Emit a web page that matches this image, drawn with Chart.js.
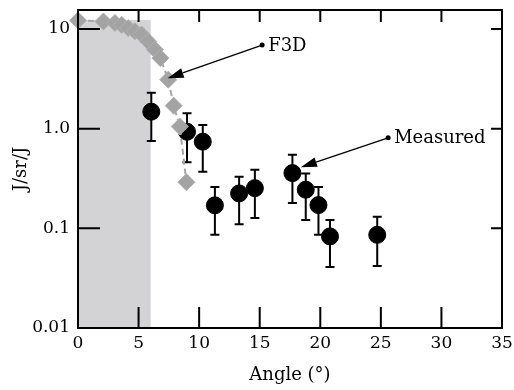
<!DOCTYPE html>
<html>
<head>
<meta charset="utf-8">
<script src="https://cdn.jsdelivr.net/npm/chart.js@4/dist/chart.umd.min.js"></script>
<style>
  html, body { margin: 0; padding: 0; background: #fff; }
  #wrap { width: 514px; height: 390px; }
</style>
</head>
<body>
<div id="wrap"><canvas id="chart"></canvas></div>
<script>
// Axis ticks
const angleTicks = [0, 5, 10, 15, 20, 25, 30, 35];
const yTicks = [0.01, 0.1, 1, 10];
const yTickLabels = ['0.01', '0.1', '1.0', '10'];

// F3D model curve (angle in degrees, J/sr/J)
const f3dAngle = [0, 2.1, 3.05, 3.6, 4.15, 4.7, 5.25, 5.8, 6.35, 6.8, 7.45, 7.9, 8.4, 8.95];
const f3dValue = [12.2, 11.9, 11.5, 11, 10.2, 9.5, 8.8, 7.5, 6.2, 5.1, 3.1, 1.7, 1.05, 0.29];

// Measured points with error bar limits
const measAngle = [6.05, 9.0, 10.3, 11.3, 13.3, 14.6, 17.7, 18.8, 19.85, 20.8, 24.7];
const measValue = [1.48, 0.93, 0.74, 0.17, 0.224, 0.253, 0.358, 0.244, 0.171, 0.083, 0.086];
const measHigh = [2.29, 1.43, 1.09, 0.26, 0.33, 0.386, 0.546, 0.355, 0.26, 0.121, 0.131];
const measLow = [0.75, 0.46, 0.37, 0.086, 0.11, 0.127, 0.18, 0.121, 0.086, 0.041, 0.042];

// Shaded band (angle range and top value)
const shadeRange = [0, 6];
const shadeTop = 12.3;

// Annotation arrows: [label, startAngle, startValue, tipAngle, tipValue]
const notes = [
  ['F3D', 15.2, 6.9, 7.4, 3.2],
  ['Measured', 25.6, 0.81, 18.4, 0.41]
];

const serif = '"DejaVu Serif", "Liberation Serif", serif';

// Draws shaded band and error bars under the data
const underlayPlugin = {
  id: 'underlay',
  beforeDatasetsDraw(chart) {
    const ctx = chart.ctx;
    const x = chart.scales.x, y = chart.scales.y;
    ctx.save();
    ctx.fillStyle = '#d3d3d5';
    const x0 = x.getPixelForValue(shadeRange[0]);
    const x1 = x.getPixelForValue(shadeRange[1]);
    const yt = y.getPixelForValue(shadeTop);
    ctx.fillRect(x0, yt, x1 - x0, chart.chartArea.bottom - yt);

    ctx.strokeStyle = '#000';
    ctx.lineWidth = 2;
    for (let i = 0; i < measAngle.length; i++) {
      const px = x.getPixelForValue(measAngle[i]);
      const hi = y.getPixelForValue(measHigh[i]);
      const lo = y.getPixelForValue(measLow[i]);
      ctx.beginPath();
      ctx.moveTo(px, hi); ctx.lineTo(px, lo);
      ctx.moveTo(px - 4.5, hi); ctx.lineTo(px + 4.5, hi);
      ctx.moveTo(px - 4.5, lo); ctx.lineTo(px + 4.5, lo);
      ctx.stroke();
    }
    ctx.restore();
  }
};

// Frame, inward ticks and annotation arrows
const overlayPlugin = {
  id: 'overlay',
  afterDraw(chart) {
    const ctx = chart.ctx;
    const a = chart.chartArea;
    const x = chart.scales.x, y = chart.scales.y;
    ctx.save();
    ctx.strokeStyle = '#000';
    ctx.lineWidth = 2;
    ctx.strokeRect(a.left, a.top, a.right - a.left, a.bottom - a.top);
    ctx.beginPath();
    angleTicks.forEach(v => {
      const px = x.getPixelForValue(v);
      ctx.moveTo(px, a.bottom); ctx.lineTo(px, a.bottom - 21);
      ctx.moveTo(px, a.top); ctx.lineTo(px, a.top + 12);
    });
    yTicks.forEach(v => {
      const py = y.getPixelForValue(v);
      ctx.moveTo(a.left, py); ctx.lineTo(a.left + 22, py);
      ctx.moveTo(a.right, py); ctx.lineTo(a.right - 11, py);
    });
    ctx.stroke();

    // arrows
    ctx.lineWidth = 1.3;
    ctx.fillStyle = '#000';
    ctx.font = '18px ' + serif;
    ctx.textBaseline = 'middle';
    ctx.textAlign = 'left';
    notes.forEach(n => {
      const sx = x.getPixelForValue(n[1]), sy = y.getPixelForValue(n[2]);
      const tx = x.getPixelForValue(n[3]), ty = y.getPixelForValue(n[4]);
      const ang = Math.atan2(ty - sy, tx - sx);
      const len = 16, wid = 5;
      const bx = tx - len * Math.cos(ang), by = ty - len * Math.sin(ang);
      ctx.beginPath();
      ctx.moveTo(sx, sy); ctx.lineTo(bx, by);
      ctx.stroke();
      ctx.beginPath();
      ctx.moveTo(tx, ty);
      ctx.lineTo(bx + wid * Math.sin(ang), by - wid * Math.cos(ang));
      ctx.lineTo(bx - wid * Math.sin(ang), by + wid * Math.cos(ang));
      ctx.closePath();
      ctx.fill();
      ctx.beginPath();
      ctx.arc(sx, sy, 2.5, 0, Math.PI * 2);
      ctx.fill();
      ctx.fillText(n[0], sx + 6, sy + 1);
    });
    ctx.restore();
  }
};

new Chart(document.getElementById('chart'), {
  type: 'scatter',
  data: {
    datasets: [{
      label: 'F3D',
      data: f3dAngle.map((v, i) => ({ x: v, y: f3dValue[i] })),
      showLine: true,
      borderColor: '#a5a5a5',
      borderWidth: 2,
      borderDash: [6, 4],
      pointStyle: 'rectRot',
      pointRadius: 8.5,
      pointBackgroundColor: '#a3a3a3',
      pointBorderColor: '#b0b0b0',
      pointBorderWidth: 1,
      clip: false
    }, {
      label: 'Measured',
      data: measAngle.map((v, i) => ({ x: v, y: measValue[i] })),
      pointStyle: 'circle',
      pointRadius: 8.5,
      pointBackgroundColor: '#000',
      pointBorderColor: '#000',
      clip: false
    }]
  },
  options: {
    responsive: true,
    maintainAspectRatio: false,
    animation: false,
    layout: { autoPadding: false, padding: { top: 10, right: 12, left: 0, bottom: 0 } },
    plugins: {
      legend: { display: false },
      tooltip: { enabled: false }
    },
    scales: {
      x: {
        type: 'linear',
        min: 0,
        max: 35,
        afterBuildTicks: s => { s.ticks = angleTicks.map(v => ({ value: v })); },
        afterFit: s => { s.height = 62; s.paddingLeft = 0; s.paddingRight = 0; },
        grid: { display: false, drawTicks: false },
        border: { display: false },
        ticks: { color: '#000', padding: 5, font: { family: serif, size: 17 } },
        title: {
          display: true,
          text: 'Angle (°)',
          color: '#000',
          padding: { top: 2, bottom: 4 },
          font: { family: serif, size: 18 }
        }
      },
      y: {
        type: 'logarithmic',
        min: 0.01,
        max: 15.5,
        afterBuildTicks: s => { s.ticks = yTicks.map(v => ({ value: v })); },
        afterFit: s => { s.width = 78; s.paddingTop = 0; s.paddingBottom = 0; },
        grid: { display: false, drawTicks: false },
        border: { display: false },
        ticks: {
          color: '#000',
          padding: 8,
          font: { family: serif, size: 17 },
          callback: v => yTickLabels[yTicks.indexOf(v)]
        },
        title: {
          display: true,
          text: 'J/sr/J',
          color: '#000',
          padding: { top: 11, bottom: 4 },
          font: { family: serif, size: 18 }
        }
      }
    }
  },
  plugins: [underlayPlugin, overlayPlugin]
});
</script>
</body>
</html>
